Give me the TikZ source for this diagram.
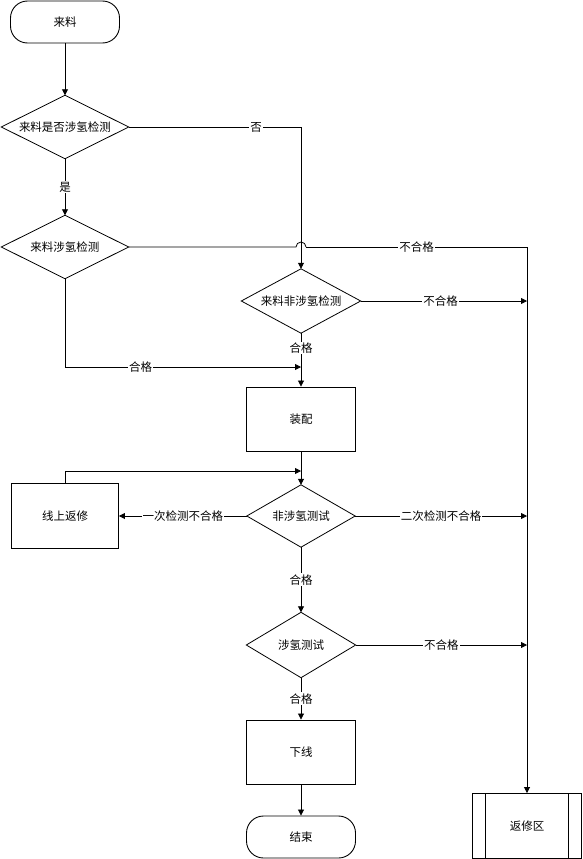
\documentclass[tikz,border=0pt]{standalone}
\usepackage{fontspec}
\newfontfamily\cjk{Noto Sans CJK SC}
\usetikzlibrary{arrows.meta}
\newcommand\dmd[1]{\draw[line width=0.8pt] (#1.north) -- (#1.east) -- (#1.south) -- (#1.west) -- cycle;}
\begin{document}
\begin{tikzpicture}[x=1pt,y=-1pt,
  every node/.style={font=\cjk\fontsize{11.5}{12}\selectfont},
  box/.style={draw,line width=0.9pt,minimum width=109pt,minimum height=64pt,inner sep=0pt},
  term/.style={draw,line width=0.9pt,rounded corners=17pt,minimum width=109pt,minimum height=42pt,inner sep=0pt},
  dia/.style={inner sep=0pt},
  conn/.style={line width=0.8pt},
  arr/.style={conn,-{Triangle[length=6pt,width=6pt]}},
  lbl/.style={fill=white,inner sep=1pt}]
\useasboundingbox (0,0) rectangle (582,859);
\node[term] (start) at (65,22) {来料};
\node[dia,minimum width=127pt,minimum height=63pt] (d1) at (65,127) {来料是否涉氢检测};
\node[dia,minimum width=127pt,minimum height=63pt] (d2) at (65,247) {来料涉氢检测};
\node[dia,minimum width=119pt,minimum height=64pt] (d3) at (301,301) {来料非涉氢检测};
\node[box] (asm) at (301,419) {装配};
\node[dia,minimum width=108pt,minimum height=62pt] (d4) at (301,516) {非涉氢测试};
\node[box,minimum width=107pt,minimum height=65pt] (rw) at (65,516) {线上返修};
\node[dia,minimum width=109pt,minimum height=65pt] (d5) at (301,645) {涉氢测试};
\node[box] (off) at (301,752) {下线};
\node[term] (end) at (301,837) {结束};
\node[box,minimum height=65pt] (rep) at (527,826) {返修区};
\dmd{d1}\dmd{d2}\dmd{d3}\dmd{d4}\dmd{d5}
\draw[line width=0.8pt] ([xshift=13pt]rep.north west) -- ([xshift=13pt]rep.south west)
  ([xshift=-14pt]rep.north east) -- ([xshift=-14pt]rep.south east);
% junction coordinates
\coordinate (c1) at (301,127);
\coordinate (h1) at (296,247);
\coordinate (c2) at (527,247);
\coordinate (c3) at (65,367);
\coordinate (j1) at (301,367);
\coordinate (c4) at (65,471);
\coordinate (j2) at (301,471);
\coordinate (r1) at (527,301);
\coordinate (r2) at (527,516);
\coordinate (r3) at (527,645);
% connectors
\draw[arr] (start.south) -- (d1.north);
\draw[arr] (d1.south) -- node[lbl]{是} (d2.north);
\draw[arr] (d1.east) -- node[lbl,pos=0.74]{否} (c1) -- (d3.north);
\draw[conn] (d2.east) -- (h1) arc[start angle=180,end angle=0,radius=5pt];
\draw[arr] ([xshift=10pt]h1) -- node[lbl,pos=0.5]{不合格} (c2) -- (rep.north);
\draw[arr] (d2.south) -- (c3) -- node[lbl,pos=0.32]{合格} (j1);
\draw[arr] (d3.south) -- node[lbl,pos=0.28]{合格} (asm.north);
\draw[arr] (d3.east) -- node[lbl,pos=0.48]{不合格} (r1);
\draw[arr] (asm.south) -- (d4.north);
\draw[arr] (rw.north) -- (c4) -- (j2);
\draw[arr] (d4.west) -- node[lbl,pos=0.5]{一次检测不合格} (rw.east);
\draw[arr] (d4.east) -- node[lbl,pos=0.5]{二次检测不合格} (r2);
\draw[arr] (d4.south) -- node[lbl,pos=0.5]{合格} (d5.north);
\draw[arr] (d5.east) -- node[lbl,pos=0.5]{不合格} (r3);
\draw[arr] (d5.south) -- node[lbl,pos=0.5]{合格} (off.north);
\draw[arr] (off.south) -- (end.north);
\end{tikzpicture}
\end{document}
